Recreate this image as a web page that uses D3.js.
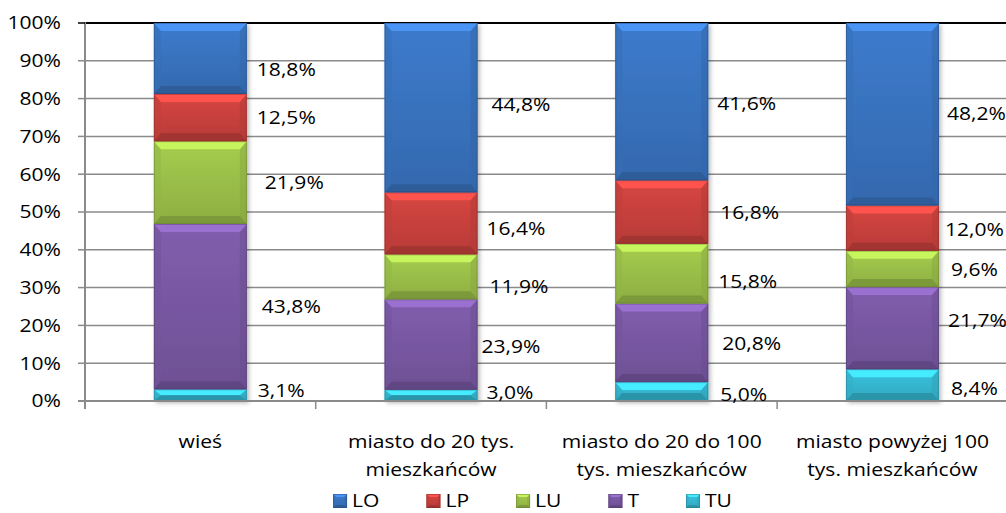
<!DOCTYPE html>
<html>
<head>
<meta charset="utf-8">
<script src="https://cdn.jsdelivr.net/npm/d3@7"></script>
<style>
  html, body { margin: 0; padding: 0; background: #fff; }
  svg { display: block; }
  text { font-family: "Open Sans", "Noto Sans", sans-serif; fill: #000; }
</style>
</head>
<body>
<svg id="chart" width="1006" height="513"></svg>
<script>
// ---------- data ----------
const categoryLines = [
  ["wieś"],
  ["miasto do 20 tys.", "mieszkańców"],
  ["miasto do 20 do 100", "tys. mieszkańców"],
  ["miasto powyżej 100", "tys. mieszkańców"]
];
const categories = categoryLines.map(l => l.join(" "));
const seriesNames = ["TU", "T", "LU", "LP", "LO"];          // bottom -> top
const legendOrder = ["LO", "LP", "LU", "T", "TU"];
const TU = [3.1, 3.0, 5.0, 8.4];
const T  = [43.8, 23.9, 20.8, 21.7];
const LU = [21.9, 11.9, 15.8, 9.6];
const LP = [12.5, 16.4, 16.8, 12.0];
const LO = [18.8, 44.8, 41.6, 48.2];
const yTicks = [0, 0.1, 0.2, 0.3, 0.4, 0.5, 0.6, 0.7, 0.8, 0.9, 1.0];

// ---------- styles / layout ----------
const seriesColors = { LO: "#3A75C2", LP: "#CC423E", LU: "#9DC24A", T: "#7A59A5", TU: "#36BAD4" };
// manual label nudges [dx from bar right, dy from segment centre]
const labelNudge = {
  LO: [[10, 11], [14, -3], [9, 2], [8, -1]],
  LP: [[10, 0], [9, 5], [12, 1], [6, 1]],
  LU: [[18, 0], [12, 10], [10, 8], [12, 1]],
  T:  [[15, 0], [4, 2], [14, 1], [9, -8]],
  TU: [[11, -5], [9, -3], [12, 3], [12, 3]]
};
const SX = 1.17;       // horizontal stretch of text (reference is stretched)
const FS = 18;

const valuesBySeries = { TU, T, LU, LP, LO };
const table = categories.map((c, i) => {
  const row = { cat: c };
  seriesNames.forEach(s => row[s] = valuesBySeries[s][i]);
  return row;
});

const svg = d3.select("#chart");
const defs = svg.append("defs");
const plotLeft = 85, plotRight = 1007.8, plotTop = 23, plotBottom = 401;

const x = d3.scaleBand().domain(categories).range([plotLeft, plotRight]).paddingInner(0.597).paddingOuter(0.2985);
const y = d3.scaleLinear().domain([0, 1]).range([plotBottom, plotTop]);

const stack = d3.stack().keys(seriesNames).offset(d3.stackOffsetExpand);
const stacked = stack(table);

const locale = d3.formatLocale({ decimal: ",", thousands: " ", grouping: [3], currency: ["", " zł"] });
const fmt1 = locale.format(".1f");
const fmtPct = locale.format(".0%");

// gradients
seriesNames.forEach(s => {
  const c = d3.color(seriesColors[s]);
  const g = defs.append("linearGradient").attr("id", "face-" + s).attr("x1", 0).attr("y1", 0).attr("x2", 0).attr("y2", 1);
  g.append("stop").attr("offset", "0%").attr("stop-color", c.brighter(0.15));
  g.append("stop").attr("offset", "100%").attr("stop-color", c.darker(0.3));
});
const filt = defs.append("filter").attr("id", "shadow").attr("x", "-10%").attr("y", "-10%").attr("width", "130%").attr("height", "130%");
filt.append("feDropShadow").attr("dx", 2).attr("dy", 2).attr("stdDeviation", 2).attr("flood-color", "#000").attr("flood-opacity", 0.28);

// gridlines
svg.append("g").selectAll("line").data(yTicks.filter(t => t > 0 && t < 1)).join("line")
  .attr("x1", plotLeft).attr("x2", 1006)
  .attr("y1", d => y(d)).attr("y2", d => y(d))
  .attr("stroke", "#8a8a8a").attr("stroke-width", 1.5);

// top line (100%)
svg.append("line").attr("x1", plotLeft).attr("x2", 1006).attr("y1", y(1)).attr("y2", y(1))
  .attr("stroke", "#000").attr("stroke-width", 2);

// bars with bevel
function bevelSegment(g, x0, y0, w, h, s, bx, byMax) {
  const c = d3.color(seriesColors[s]);
  const x1 = x0 + w, y1 = y0 + h;
  const by = Math.min(byMax, h / 2);
  const bxx = Math.min(bx, w / 2);
  g.append("rect").attr("x", x0).attr("y", y0).attr("width", w).attr("height", h).attr("fill", `url(#face-${s})`);
  const pts = a => a.map(p => p.join(",")).join(" ");
  g.append("polygon").attr("points", pts([[x0, y0], [x0 + bxx, y0 + by], [x0 + bxx, y1 - by], [x0, y1]]))
    .attr("fill", c.darker(0.2)).attr("opacity", 0.5);
  g.append("polygon").attr("points", pts([[x1, y0], [x1 - bxx, y0 + by], [x1 - bxx, y1 - by], [x1, y1]]))
    .attr("fill", c.darker(0.4)).attr("opacity", 0.5);
  g.append("polygon").attr("points", pts([[x0, y0], [x1, y0], [x1 - bxx, y0 + by], [x0 + bxx, y0 + by]]))
    .attr("fill", c.brighter(0.65));
  g.append("polygon").attr("points", pts([[x0, y1], [x1, y1], [x1 - bxx, y1 - by], [x0 + bxx, y1 - by]]))
    .attr("fill", c.darker(0.65));
  g.append("rect").attr("x", x0 + 0.5).attr("y", y0 + 0.5).attr("width", w - 1).attr("height", Math.max(0, h - 1))
    .attr("fill", "none").attr("stroke", c.darker(1.3)).attr("stroke-opacity", 0.45).attr("stroke-width", 1);
}

const barsG = svg.append("g").attr("filter", "url(#shadow)");
stacked.forEach(layer => {
  layer.forEach((d, i) => {
    const x0 = x(categories[i]);
    const yTop = y(d[1]), yBot = y(d[0]);
    const g = barsG.append("g").attr("class", "seg seg-" + layer.key);
    bevelSegment(g, x0, yTop, x.bandwidth(), yBot - yTop, layer.key, 7, 8);
  });
});

// axes lines
svg.append("line").attr("x1", plotLeft).attr("x2", plotLeft).attr("y1", plotTop - 1).attr("y2", plotBottom + 8)
  .attr("stroke", "#8a8a8a").attr("stroke-width", 2);
svg.append("line").attr("x1", plotLeft - 7).attr("x2", 1006).attr("y1", plotBottom).attr("y2", plotBottom)
  .attr("stroke", "#8a8a8a").attr("stroke-width", 2);
svg.append("g").selectAll("line").data(yTicks).join("line")
  .attr("x1", plotLeft - 7).attr("x2", plotLeft).attr("y1", d => y(d)).attr("y2", d => y(d))
  .attr("stroke", d => d === 1 ? "#000" : "#8a8a8a").attr("stroke-width", 1.5);
const boundaries = categories.map((c, i) => plotLeft + x.step() * i);
svg.append("g").selectAll("line").data(boundaries).join("line")
  .attr("x1", d => d).attr("x2", d => d).attr("y1", plotBottom).attr("y2", plotBottom + 8)
  .attr("stroke", "#8a8a8a").attr("stroke-width", 1.5);

// y tick labels
svg.append("g").selectAll("g").data(yTicks).join("g")
  .attr("transform", d => `translate(61,${y(d)}) scale(${SX},1)`)
  .append("text").attr("text-anchor", "end").attr("dy", "0.36em").attr("font-size", FS)
  .text(d => fmtPct(d));

// category labels
const catG = svg.append("g").selectAll("g").data(categoryLines).join("g")
  .attr("transform", (d, i) => `translate(${x(categories[i]) + x.bandwidth() / 2},0)`);
catG.each(function (lines) {
  const g = d3.select(this);
  lines.forEach((ln, k) => {
    g.append("g").attr("transform", `translate(0,${442 + k * 28}) scale(${SX},1)`)
      .append("text").attr("text-anchor", "middle").attr("dy", "0.36em").attr("font-size", FS).text(ln);
  });
});

// data labels
const labelG = svg.append("g");
stacked.forEach(layer => {
  layer.forEach((d, i) => {
    const s = layer.key;
    const nud = labelNudge[s][i];
    const xr = x(categories[i]) + x.bandwidth();
    const yc = (y(d[0]) + y(d[1])) / 2;
    labelG.append("g").attr("transform", `translate(${xr + nud[0]},${yc + nud[1]}) scale(${SX},1)`)
      .append("text").attr("dy", "0.36em").attr("font-size", FS)
      .text(fmt1(valuesBySeries[s][i]) + "%");
  });
});

// legend
const legend = svg.append("g");
let cursor = 0;
const entries = [];
legendOrder.forEach(s => {
  const eg = legend.append("g");
  const m = eg.append("g");
  bevelSegment(m, 0, -7, 14, 14, s, 3, 3);
  const tg = eg.append("g").attr("transform", `translate(19,0) scale(${SX},1)`);
  const t = tg.append("text").attr("dy", "0.36em").attr("font-size", FS).text(s);
  const tw = t.node().getComputedTextLength() * SX;
  entries.push({ g: eg, x: cursor });
  cursor += 19 + tw + 47;
});
const totalW = cursor - 47;
const startX = 532.5 - totalW / 2;
entries.forEach(e => e.g.attr("transform", `translate(${startX + e.x},501)`));
</script>
</body>
</html>
